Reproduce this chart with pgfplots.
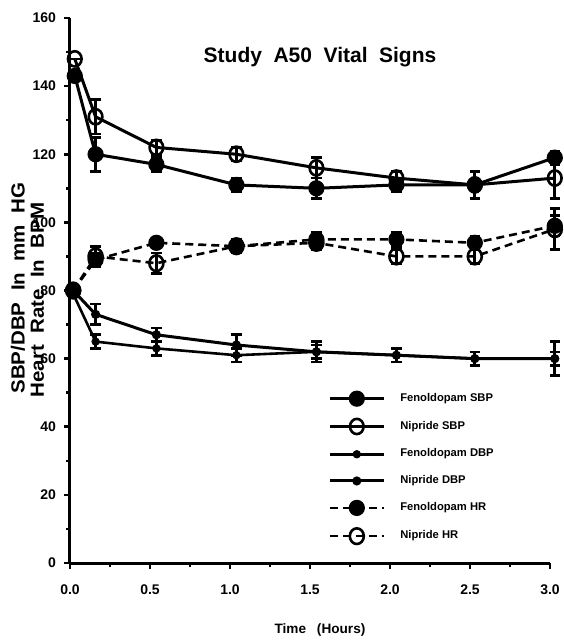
\documentclass[border=0pt]{standalone}
\usepackage{fontspec}
\setmainfont{Liberation Sans}
\newfontfamily\wideff{Liberation Sans}[FakeStretch=1.08]
\usepackage{pgfplots}
\usepackage{pgfplotstable}
\pgfplotsset{compat=1.18}

% time  value  error
\pgfplotstableread{
x y e
0.03 143 0
0.16 120 5
0.54 117 2
1.04 111 2
1.54 110 3
2.04 111 2
2.53 111 1
3.03 119 2
}\fensbp
\pgfplotstableread{
x y e
0.03 148 0
0.16 131 5
0.54 122 2
1.04 120 2
1.54 116 3
2.04 113 2
2.53 111 4
3.03 113 6
}\nipsbp
\pgfplotstableread{
x y e
0.02 79 0
0.16 65 2
0.54 63 2
1.04 61 2
1.54 62 3
2.04 61 2
2.53 60 2
3.03 60 2
}\fendbp
\pgfplotstableread{
x y e
0.02 80 0
0.16 73 3
0.54 67 2
1.04 64 3
1.54 62 2
2.04 61 2
2.53 60 2
3.03 60 5
}\nipdbp
\pgfplotstableread{
x y e
0.02 80 0
0.16 89 2
0.54 94 1
1.04 93 2
1.54 95 2
2.04 95 2
2.53 94 2
3.03 99 3
}\fenhr
\pgfplotstableread{
x y e
0.02 80 0
0.16 90 3
0.54 88 3
1.04 93 2
1.54 94 2
2.04 90 2
2.53 90 2
3.03 98 6
}\niphr

\begin{document}
\begin{tikzpicture}
\useasboundingbox (-35pt,-39.5pt) rectangle (246.5pt,281.5pt);
\begin{axis}[
  scale only axis, width=240pt, height=272.5pt,
  at={(0,0)}, anchor=south west,
  xmin=0, xmax=3, ymin=0, ymax=160, clip=false,
  axis lines=left, axis line style={-, line width=1.5pt},
  xtick={0,0.5,1,1.5,2,2.5,3}, minor xtick={0.25,0.75,1.25,1.75,2.25,2.75},
  ytick={0,20,40,60,80,100,120,140,160}, minor ytick={10,30,50,70,90,110,130,150},
  tick align=outside, major tick length=3pt, minor tick length=1.8pt,
  every tick/.style={line width=1.3pt, black},
  /pgf/number format/assume math mode=true,
  ticklabel style={font=\bfseries\fontsize{7}{8}\selectfont},
  x tick label style={/pgf/number format/fixed, /pgf/number format/fixed zerofill, /pgf/number format/precision=1, yshift=-4.5pt},
  yticklabel style={xshift=-0.5pt},
  legend style={at={(axis cs:1.612,50.3)}, anchor=north west, draw=none, fill=none,
    font=\bfseries\fontsize{5.6}{6.5}\selectfont, row sep=6.8pt, inner sep=0pt,
    nodes={inner sep=0.5pt}},
  legend cell align=left,
  /tikz/every odd column/.append style={column sep=7pt},
  legend image code/.code={\draw[mark repeat=2,mark phase=2,#1] plot coordinates {(0pt,0pt) (13.5pt,0pt) (27pt,0pt)};},
  error bars/y dir=both, error bars/y explicit,
  error bars/error bar style={line width=1.3pt, solid},
  error bars/error mark options={rotate=90, mark size=2.6pt, line width=1.3pt},
]
\addplot[black, line width=1.5pt, mark=*, mark size=3.3pt] table[x=x,y=y,y error=e]{\fensbp};
\addlegendentry{Fenoldopam SBP}
\addplot[black, line width=1.5pt, mark=o, mark size=3.4pt, mark options={fill=white, line width=1.3pt, yscale=1.12}] table[x=x,y=y,y error=e]{\nipsbp};
\addlegendentry{Nipride SBP}
\addplot[black, line width=1.3pt, mark=*, mark size=1.4pt] table[x=x,y=y,y error=e]{\fendbp};
\addlegendentry{Fenoldopam DBP}
\addplot[black, line width=1.5pt, mark=*, mark size=1.5pt] table[x=x,y=y,y error=e]{\nipdbp};
\addlegendentry{Nipride DBP}
\addplot[black, line width=1.3pt, dash pattern=on 4pt off 2.5pt, mark=*, mark size=3.4pt, mark options={solid}] table[x=x,y=y,y error=e]{\fenhr};
\addlegendentry{Fenoldopam HR}
\addplot[black, line width=1.3pt, dash pattern=on 4pt off 2.5pt, mark=o, mark size=3.5pt, mark options={solid, fill=white, line width=1.3pt, yscale=1.12}] table[x=x,y=y,y error=e]{\niphr};
\addlegendentry{Nipride HR}
\node[font=\bfseries\fontsize{10.5}{12}\selectfont] at (axis cs:1.5625,148.6) {Study\hspace{0.55em}A50\hspace{0.55em}Vital\hspace{0.55em}Signs};
\node[font=\bfseries\fontsize{6.8}{8}\selectfont] at (axis cs:1.5625,-19.7) {Time\hspace{0.8em}(Hours)};
\node[rotate=90, font=\wideff\bfseries\fontsize{9.5}{11}\selectfont] at (axis cs:-0.325,80.7) {SBP/DBP\hspace{0.6em}In\hspace{0.6em}mm\hspace{0.6em}HG};
\node[rotate=90, font=\wideff\bfseries\fontsize{9.5}{11}\selectfont] at (axis cs:-0.203,77.2) {Heart\hspace{0.6em}Rate\hspace{0.6em}In\hspace{0.6em}BPM};
\end{axis}
\end{tikzpicture}
\end{document}
